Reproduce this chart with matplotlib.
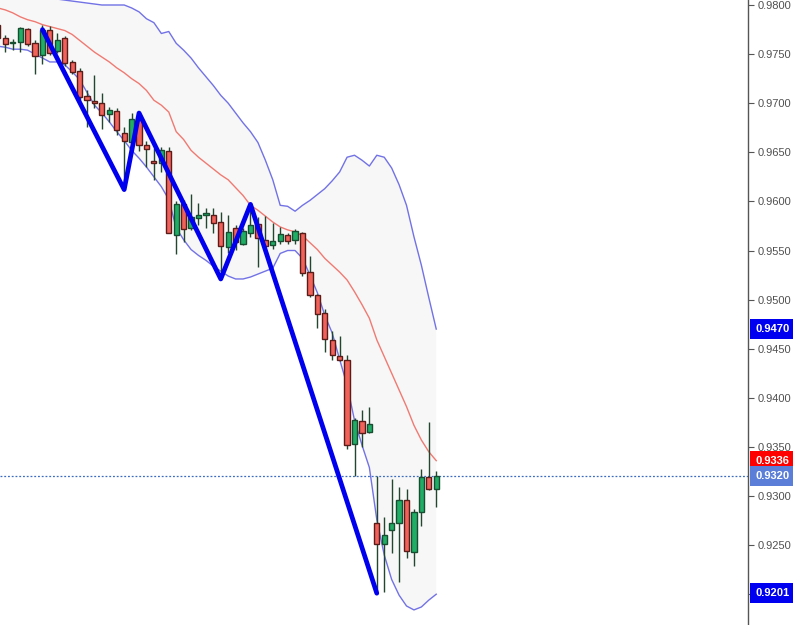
import matplotlib
matplotlib.use("Agg")
import matplotlib.pyplot as plt
import matplotlib.transforms as mtransforms
import numpy as np

plt.rcParams['font.family'] = ['Liberation Sans', 'DejaVu Sans']

# --- candles (index -1 .. 58) ---
opens = [0.9780, 0.9766, 0.9761, 0.9762, 0.9776, 0.9761, 0.9749, 0.9775, 0.9753, 0.9766,
         0.9742, 0.9733, 0.9707, 0.9702, 0.9700, 0.9689, 0.9692, 0.9670, 0.9660, 0.9683,
         0.9657, 0.9641, 0.9639, 0.9651, 0.9566, 0.9597, 0.9573, 0.9583, 0.9586, 0.9586,
         0.9579, 0.9554, 0.9573, 0.9557, 0.9568, 0.9577, 0.9561, 0.9556, 0.9560, 0.9566,
         0.9561, 0.9568, 0.9528, 0.9505, 0.9486, 0.9459, 0.9443, 0.9439, 0.9353, 0.9376,
         0.9365, 0.9272, 0.9251, 0.9265, 0.9272, 0.9296, 0.9243, 0.9284, 0.9319, 0.9307]
highs = [0.9783, 0.9769, 0.9765, 0.9778, 0.9777, 0.9764, 0.9780, 0.9779, 0.9771, 0.9768,
         0.9744, 0.9736, 0.9713, 0.9729, 0.9710, 0.9696, 0.9695, 0.9676, 0.9690, 0.9690,
         0.9661, 0.9654, 0.9655, 0.9655, 0.9600, 0.9601, 0.9608, 0.9598, 0.9593, 0.9593,
         0.9589, 0.9586, 0.9576, 0.9573, 0.9597, 0.9584, 0.9585, 0.9578, 0.9574, 0.9568,
         0.9572, 0.9569, 0.9544, 0.9506, 0.9490, 0.9468, 0.9463, 0.9444, 0.9379, 0.9388,
         0.9391, 0.9320, 0.9279, 0.9317, 0.9309, 0.9307, 0.9287, 0.9327, 0.9375, 0.9325]
lows = [0.9764, 0.9752, 0.9754, 0.9752, 0.9758, 0.9730, 0.9740, 0.9749, 0.9751, 0.9738,
        0.9730, 0.9703, 0.9676, 0.9695, 0.9674, 0.9681, 0.9668, 0.9612, 0.9659, 0.9651,
        0.9635, 0.9622, 0.9630, 0.9568, 0.9546, 0.9559, 0.9571, 0.9576, 0.9573, 0.9568,
        0.9521, 0.9547, 0.9551, 0.9556, 0.9564, 0.9533, 0.9552, 0.9552, 0.9557, 0.9557,
        0.9557, 0.9524, 0.9503, 0.9471, 0.9447, 0.9439, 0.9437, 0.9348, 0.9320, 0.9350,
        0.9364, 0.9201, 0.9202, 0.9242, 0.9212, 0.9237, 0.9229, 0.9269, 0.9306, 0.9289]
closes = [0.9766, 0.9760, 0.9762, 0.9777, 0.9760, 0.9748, 0.9775, 0.9751, 0.9764, 0.9741,
          0.9732, 0.9706, 0.9703, 0.9700, 0.9688, 0.9693, 0.9673, 0.9661, 0.9684, 0.9657,
          0.9653, 0.9639, 0.9652, 0.9568, 0.9597, 0.9572, 0.9584, 0.9586, 0.9588, 0.9578,
          0.9555, 0.9569, 0.9559, 0.9570, 0.9576, 0.9563, 0.9555, 0.9560, 0.9567, 0.9560,
          0.9570, 0.9527, 0.9505, 0.9485, 0.9460, 0.9444, 0.9438, 0.9352, 0.9377, 0.9364,
          0.9373, 0.9251, 0.9260, 0.9272, 0.9296, 0.9244, 0.9284, 0.9319, 0.9307, 0.9320]

# --- bollinger bands ---
bb_upper = [0.9825, 0.9823, 0.9820, 0.9817, 0.9815, 0.9813, 0.9810, 0.9808, 0.9806, 0.9805,
            0.9804, 0.9803, 0.9802, 0.9801, 0.9800, 0.9800, 0.9800, 0.9800, 0.9797, 0.9793,
            0.9786, 0.9782, 0.9771, 0.9773, 0.9761, 0.9754, 0.9746, 0.9736, 0.9727, 0.9718,
            0.9708, 0.9700, 0.9690, 0.9680, 0.9671, 0.9660, 0.9642, 0.9622, 0.9596, 0.9595,
            0.9590, 0.9596, 0.9601, 0.9607, 0.9613, 0.9621, 0.9630, 0.9645, 0.9647, 0.9642,
            0.9636, 0.9647, 0.9645, 0.9634, 0.9617, 0.9596, 0.9564, 0.9535, 0.9502, 0.9470]
bb_mid = [0.9797, 0.9795, 0.9792, 0.9788, 0.9785, 0.9783, 0.9780, 0.9778, 0.9776, 0.9774,
          0.9770, 0.9764, 0.9758, 0.9752, 0.9747, 0.9742, 0.9736, 0.9731, 0.9725, 0.9720,
          0.9713, 0.9703, 0.9698, 0.9691, 0.9671, 0.9663, 0.9652, 0.9645, 0.9639, 0.9633,
          0.9627, 0.9622, 0.9614, 0.9606, 0.9596, 0.9591, 0.9585, 0.9579, 0.9574, 0.9571,
          0.9569, 0.9565, 0.9558, 0.9551, 0.9542, 0.9535, 0.9528, 0.9520, 0.9508, 0.9495,
          0.9481, 0.9459, 0.9442, 0.9425, 0.9408, 0.9391, 0.9372, 0.9357, 0.9345, 0.9336]
bb_lower = [0.9758, 0.9757, 0.9755, 0.9755, 0.9754, 0.9750, 0.9746, 0.9742, 0.9742, 0.9739,
            0.9732, 0.9724, 0.9711, 0.9698, 0.9690, 0.9681, 0.9671, 0.9662, 0.9652, 0.9644,
            0.9635, 0.9625, 0.9615, 0.9602, 0.9573, 0.9561, 0.9551, 0.9545, 0.9540, 0.9534,
            0.9529, 0.9524, 0.9521, 0.9521, 0.9523, 0.9526, 0.9529, 0.9532, 0.9547, 0.9550,
            0.9550, 0.9542, 0.9525, 0.9507, 0.9484, 0.9466, 0.9439, 0.9413, 0.9377, 0.9352,
            0.9329, 0.9276, 0.9240, 0.9215, 0.9199, 0.9188, 0.9184, 0.9187, 0.9194, 0.9200]

# --- zigzag ---
zz_idx = [5, 16, 18, 29, 33, 50]
zz_price = [0.9775, 0.9612, 0.9690, 0.9521, 0.9597, 0.9201]

# --- price axis ---
tick_values = [0.9200, 0.9250, 0.9300, 0.9350, 0.9400, 0.9450, 0.9500,
               0.9550, 0.9600, 0.9650, 0.9700, 0.9750, 0.9800]
last_price = 0.9320
marker_values = [0.9470, 0.9336, 0.9320, 0.9201]
marker_colors = ["#0000f0", "#ff0000", "#5b7fd9", "#0000f0"]

x = np.arange(len(opens)) - 1
o = np.array(opens)
c = np.array(closes)
up = c >= o

fig = plt.figure(figsize=(7.93, 6.25), dpi=100)
ax = fig.add_axes([0, 0, 748 / 793, 1])

# band
ax.fill_between(x, bb_lower, bb_upper, color="#f7f7f7", lw=0, zorder=0)
ax.plot(x, bb_upper, color="#7272e6", lw=1.0, zorder=1)
ax.plot(x, bb_lower, color="#7272e6", lw=1.0, zorder=1)
ax.plot(x, bb_mid, color="#f07a72", lw=1.0, zorder=1)

# candles
ax.vlines(x, lows, highs, color="#22472f", lw=1.0, zorder=2)
body_low = np.minimum(o, c)
body_h = np.maximum(np.abs(c - o), 0.00008)
ax.bar(x[up], body_h[up], bottom=body_low[up], width=0.7,
       color="#20ad66", edgecolor="#174d30", lw=1.0, zorder=3)
ax.bar(x[~up], body_h[~up], bottom=body_low[~up], width=0.7,
       color="#f0625a", edgecolor="#5a1c18", lw=1.0, zorder=3)

# zigzag
ax.plot(zz_idx, zz_price, color="#0000ee", lw=3.4, solid_capstyle="round", zorder=4)

# current price line
ax.axhline(last_price, color="#3a6cc0", lw=0.9, ls=(0, (1.5, 1.5)), zorder=1)

ax.set_xlim(-0.713, 99.96)
ax.set_ylim(0.916864, 0.980509)

for s in ["left", "top", "bottom"]:
    ax.spines[s].set_visible(False)
ax.spines["right"].set_color("#555555")
ax.spines["right"].set_linewidth(1.0)
ax.set_xticks([])
ax.yaxis.tick_right()
ax.set_yticks(tick_values)
ax.set_yticklabels([f"{v:.4f}" for v in tick_values])
ax.tick_params(axis="y", direction="out", length=4, width=0.8, color="#555555",
               labelsize=8, labelcolor="#505050", pad=3)

trans = mtransforms.blended_transform_factory(ax.transAxes, ax.transData)
for val, col in zip(marker_values, marker_colors):
    ax.text(1.0094, val, f"{val:.4f}", transform=trans, ha="left", va="center",
            fontsize=8, fontweight="bold", color="white", clip_on=False, zorder=10,
            bbox=dict(boxstyle="square,pad=0.45", fc=col, ec="none"))

fig.savefig("out.png", dpi=100)
